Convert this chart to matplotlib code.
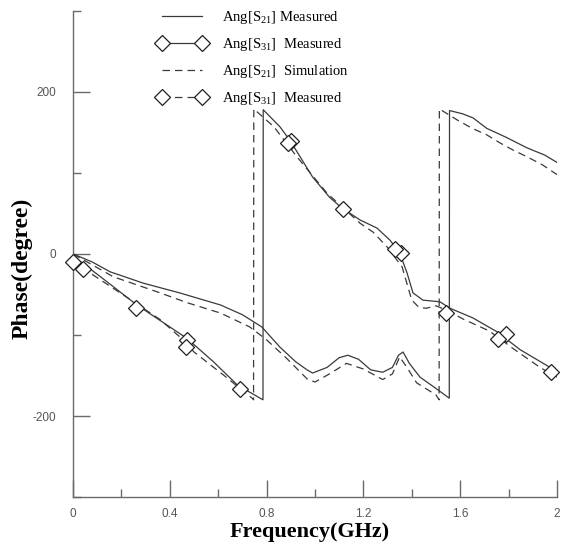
import matplotlib
matplotlib.use("Agg")
import matplotlib.pyplot as plt
from matplotlib.lines import Line2D

# ---------------- data ----------------
s21_meas_x = [0.0, 0.08, 0.153, 0.29, 0.44, 0.61, 0.70, 0.78, 0.855, 0.92, 0.967, 0.99,
              1.05, 1.10, 1.136, 1.18, 1.23, 1.28, 1.32, 1.345, 1.364, 1.39, 1.434, 1.50,
              1.555, 1.556, 1.61, 1.653, 1.71, 1.79, 1.876, 1.95, 2.0]
s21_meas_y = [0, -10, -22, -36, -48, -63, -75, -90, -115, -133, -143, -147,
              -140, -128, -125, -130, -143, -146, -140, -125, -121, -135, -152, -166,
              -178, 177, 173, 168, 155, 144, 131, 122, 113]

s21_sim_x = [0.0, 0.165, 0.36, 0.47, 0.61, 0.73, 0.80, 0.88, 0.97, 1.00, 1.06, 1.13,
             1.20, 1.28, 1.32, 1.35, 1.38, 1.42, 1.50, 1.513, 1.514, 1.59, 1.65, 1.71,
             1.765, 1.82, 1.876, 1.94, 2.0]
s21_sim_y = [0, -28, -48, -60, -73, -90, -106, -128, -155, -158, -148, -135,
             -142, -155, -148, -127, -140, -159, -174, -180, 179, 165, 155, 147,
             137, 128, 120, 110, 98]

s31_meas_x = [0.0, 0.10, 0.264, 0.47, 0.58, 0.68, 0.785, 0.786, 0.855, 0.897, 0.99, 1.06,
              1.11, 1.186, 1.256, 1.31, 1.35, 1.38, 1.405, 1.446, 1.516, 1.558, 1.653,
              1.752, 1.847, 2.0]
s31_meas_y = [-3, -25, -63, -104, -133, -162, -180, 178, 157, 140, 95, 70,
              57, 42, 32, 17, 1, -23, -48, -57, -59, -67, -79,
              -96, -118, -145]

s31_sim_x = [0.0, 0.083, 0.22, 0.36, 0.455, 0.50, 0.62, 0.74, 0.746, 0.747, 0.83, 0.925,
             1.05, 1.186, 1.24, 1.30, 1.36, 1.40, 1.43, 1.46, 1.50, 1.55, 1.61, 1.72,
             1.82, 1.93, 2.0]
s31_sim_y = [-5, -26, -53, -81, -106, -121, -149, -178, -180, 179, 157, 120,
             75, 38, 27, 8, -16, -57, -66, -67, -64, -70, -80, -95,
             -117, -140, -152]

# diamond markers placed on the two S31 curves
s31_meas_mk_x = [0.0, 0.47, 0.90, 1.115, 1.355, 1.54, 1.79, 1.975]
s31_meas_mk_y = [-10, -106, 140, 55, 1, -73, -99, -146]
s31_sim_mk_x = [0.04, 0.26, 0.465, 0.69, 0.89, 1.33, 1.756]
s31_sim_mk_y = [-19, -67, -115, -167, 137, 6, -105]

legend_labels = [r"Ang[S$_{\mathrm{21}}$] Measured",
                 r"Ang[S$_{\mathrm{31}}$]  Measured",
                 r"Ang[S$_{\mathrm{21}}$]  Simulation",
                 r"Ang[S$_{\mathrm{31}}$]  Measured"]

x_ticks_major = [0, 0.4, 0.8, 1.2, 1.6, 2.0]
x_tick_labels = ["0", "0.4", "0.8", "1.2", "1.6", "2"]
y_ticks_major = [-200, 0, 200]
y_tick_labels = ["-200", "0", "200"]

# ---------------- style ----------------
plt.rcParams["mathtext.fontset"] = "custom"
plt.rcParams["mathtext.rm"] = "Liberation Serif"
plt.rcParams["mathtext.it"] = "Liberation Serif:italic"

lc = "#3a3a3a"
dash = (0, (6, 4))
lw = 0.9

fig = plt.figure(figsize=(5.62, 5.45), dpi=100)
ax = fig.add_axes([0.130, 0.088, 0.861, 0.892])

ax.plot(s21_meas_x, s21_meas_y, color=lc, lw=lw, ls="-")
ax.plot(s21_sim_x, s21_sim_y, color=lc, lw=lw, ls=dash)
ax.plot(s31_meas_x, s31_meas_y, color=lc, lw=lw, ls="-")
ax.plot(s31_sim_x, s31_sim_y, color=lc, lw=lw, ls=dash)
mk = dict(marker="D", ms=8.5, mfc="white", mec="#202020", mew=0.9, ls="none",
          clip_on=False, zorder=5)
ax.plot(s31_meas_mk_x, s31_meas_mk_y, **mk)
ax.plot(s31_sim_mk_x, s31_sim_mk_y, **mk)

ax.set_xlim(0, 2)
ax.set_ylim(-300, 300)
for s in ["top", "right"]:
    ax.spines[s].set_visible(False)
for s in ["left", "bottom"]:
    ax.spines[s].set_color("#6a6a6a")
    ax.spines[s].set_linewidth(1.0)

ax.set_xticks(x_ticks_major)
ax.set_xticklabels(x_tick_labels)
ax.set_xticks([0.2, 0.6, 1.0, 1.4, 1.8], minor=True)
ax.set_yticks(y_ticks_major)
ax.set_yticklabels(y_tick_labels)
ax.set_yticks([-300, -100, 100, 300], minor=True)
ax.tick_params(which="major", direction="in", length=12, width=1.0, color="#6a6a6a",
               labelsize=8.5, labelcolor="#555555", pad=8)
ax.tick_params(which="minor", direction="in", length=6, width=1.0, color="#6a6a6a")
ax.tick_params(axis="y", which="major", pad=12)
for t in ax.get_xticklabels() + ax.get_yticklabels():
    t.set_fontfamily("Liberation Sans")

ax.set_xlabel("Frequency(GHz)", fontfamily="Liberation Serif", fontweight="bold",
              fontsize=16)
ax.set_ylabel("Phase(degree)", fontfamily="Liberation Serif", fontweight="bold",
              fontsize=17)
ax.xaxis.set_label_coords(0.488, -0.052)
ax.yaxis.set_label_coords(-0.083, 0.471)

handles = [Line2D([], [], color=lc, lw=lw, ls="-"),
           Line2D([], [], color=lc, lw=lw, ls="-", marker="D", ms=8.5, mfc="white",
                  mec="#202020", mew=0.9),
           Line2D([], [], color=lc, lw=lw, ls=dash),
           Line2D([], [], color=lc, lw=lw, ls=dash, marker="D", ms=8.5, mfc="white",
                  mec="#202020", mew=0.9)]
leg = ax.legend(handles, legend_labels, loc="upper left", bbox_to_anchor=(0.148, 1.03),
                frameon=False, numpoints=2, handlelength=3.3, handletextpad=1.1,
                labelspacing=0.68, prop={"family": "Liberation Serif", "size": 10.5})

fig.savefig("out.png", dpi=100)
